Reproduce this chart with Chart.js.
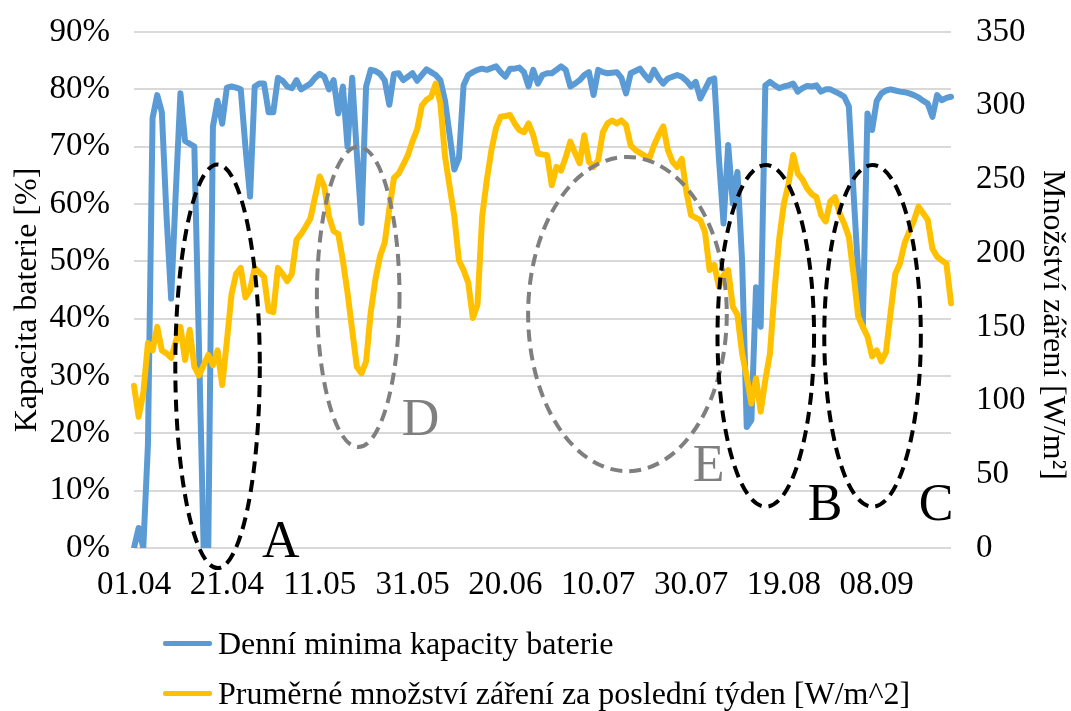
<!DOCTYPE html>
<html>
<head>
<meta charset="utf-8">
<script src="https://cdn.jsdelivr.net/npm/chart.js@4.4.1/dist/chart.umd.min.js"></script>
<style>
  html, body { margin: 0; padding: 0; background: #fff; }
  #wrap { position: relative; width: 1071px; height: 711px; }
  #legend { position: absolute; left: 163px; top: 618px; font-family: 'Liberation Serif', serif; font-size: 32px; color: #000; }
  .item { display: flex; align-items: center; height: 50px; white-space: nowrap; }
  .swatch { width: 49px; height: 5px; margin-right: 6px; border-radius: 2px; }
</style>
</head>
<body>
<div id="wrap">
  <canvas id="chart" width="1071" height="711"></canvas>
  <div id="legend"></div>
</div>
<script>
// daily values from 01.04 to 24.09
const batteryMin = [
  0, 3.5, 0, 18, 75, 79, 76, 58, 43.5, 62,
  79.3, 71, 70.5, 70, 35, 0, 0, 73.5, 78, 74,
  80.3, 80.5, 80.3, 80, 70, 61.3, 80.5, 81, 81, 76,
  76, 82, 81.5, 80.5, 80.2, 81.6, 80, 80.5, 81, 82,
  82.7, 82.2, 80, 81.6, 75.8, 80.5, 70, 82, 68.8, 56.7,
  80.5, 83.4, 83.2, 82.7, 81.6, 77.3, 82.7, 82.8, 81.6, 82.2,
  82.8, 81.5, 82.5, 83.5, 83, 82.5, 81.6, 78, 72, 66,
  68, 80.7, 82.5, 83, 83.4, 83.6, 83.4, 83.7, 84, 83,
  82.2, 83.6, 83.6, 83.8, 83, 80.5, 83.4, 81, 82.5, 82.8,
  82.8, 83.4, 84, 83.4, 80.5, 81, 81.6, 82.5, 83, 79,
  83.4, 83, 82.8, 82.9, 83, 82, 79.3, 82.8, 83.2, 83.6,
  82.5, 81.6, 83.4, 82, 81, 81.9, 82.2, 82.5, 82.2, 81.5,
  80.5, 81.3, 78.4, 80, 81.6, 81.9, 68, 56.6, 70.3, 60.1,
  65.6, 50, 21.1, 22.3, 45.5, 38.6, 80.7, 81.3, 80.7, 80.2,
  80.5, 80.7, 81, 79.6, 80.2, 80.6, 80.5, 80.7, 79.6, 80,
  80, 79.6, 79.2, 78.7, 77, 62, 48, 38.6, 75.8, 72.9,
  78, 79.3, 79.8, 80, 79.8, 79.6, 79.5, 79.3, 79, 78.6,
  78, 77.5, 75.2, 79, 78.1, 78.5, 78.7
];

const irradiance = [
  110, 89, 105, 139, 134, 150, 134, 132, 129, 140,
  150, 127.5, 148, 123, 117, 124, 131, 124, 134, 110.5,
  140, 172, 186, 190, 170, 175, 190, 187, 184, 161,
  160, 190, 186, 181, 186, 209, 213, 218, 223.5, 238,
  252, 245, 225, 215, 213, 195, 173, 148, 123, 118.5,
  126.5, 160, 182, 198, 207, 230, 251, 254, 260, 266.5,
  276, 284, 300, 304, 306, 315, 301.5, 265.6, 245, 225,
  195, 188.5, 180, 156, 165, 225, 249.5, 270, 285, 292.5,
  293, 293.7, 288, 283.5, 282, 288, 280, 267.6, 267, 266.5,
  246, 258.5, 256, 265, 275.6, 268, 261, 280, 262, 258.5,
  263, 282, 288, 290, 288, 290, 287, 273, 270, 268,
  266, 264, 273, 280, 286, 270, 262, 258.5, 264, 241.6,
  225.8, 224, 222.4, 214.5, 188.5, 192, 177.4, 185, 188.5, 163.6,
  158, 132, 116, 98, 115, 92.5, 114, 132, 175, 210,
  233.6, 247, 266.6, 254, 250, 244, 240, 238, 226, 221.5,
  235, 238, 227, 220, 211, 186, 157, 150, 143.5, 130,
  134, 126.5, 133, 160, 186, 193, 206.8, 214.6, 222, 231.5,
  227, 222.5, 203, 197.6, 195, 193, 166
];

const seriesNames = ['Denní minima kapacity baterie', 'Pruměrné množství záření za poslední týden [W/m^2]'];
const seriesColors = ['#5B9BD5', '#FFC000'];
const axisTitles = ['Kapacita baterie [%]', 'Množství záření [W/m²]'];

// dates dd.mm, one per day, starting 01.04
const startDay = new Date(2019, 3, 1);
const pad = n => String(n).padStart(2, '0');
const days = batteryMin.map((_, i) => {
  const d = new Date(startDay.getFullYear(), startDay.getMonth(), startDay.getDate() + i);
  return pad(d.getDate()) + '.' + pad(d.getMonth() + 1);
});

// highlighted periods (dashed ellipses), in day index / % units
const regions = [
  { label: 'A', color: '#000000', day: 18, pct: 31.7, rDay: 9.1, rPct: 35.2, textDay: 31.6, textPct: -1.5 },
  { label: 'D', color: '#7F7F7F', day: 48.3, pct: 43.8, rDay: 8.9, rPct: 26.2, textDay: 61.7, textPct: 19.7 },
  { label: 'E', color: '#7F7F7F', day: 106.3, pct: 40.8, rDay: 21.4, rPct: 27.4, textDay: 123.8, textPct: 11.6 },
  { label: 'B', color: '#000000', day: 136.1, pct: 37, rDay: 10.4, rPct: 29.8, textDay: 148.9, textPct: 4.9 },
  { label: 'C', color: '#000000', day: 159.1, pct: 37, rDay: 10.4, rPct: 29.8, textDay: 172.8, textPct: 4.9 }
];

const serif = 'Liberation Serif';

const regionPlugin = {
  id: 'regions',
  afterDatasetsDraw(chart) {
    const ctx = chart.ctx;
    const x = chart.scales.x, y = chart.scales.y;
    ctx.save();
    regions.forEach(r => {
      const cx = x.getPixelForValue(r.day);
      const cy = y.getPixelForValue(r.pct);
      const rx = Math.abs(x.getPixelForValue(r.day + r.rDay) - cx);
      const ry = Math.abs(y.getPixelForValue(r.pct + r.rPct) - cy);
      ctx.beginPath();
      ctx.ellipse(cx, cy, rx, ry, 0, 0, Math.PI * 2);
      ctx.setLineDash([12, 7]);
      ctx.lineWidth = 4;
      ctx.strokeStyle = r.color;
      ctx.stroke();
      ctx.setLineDash([]);
      ctx.fillStyle = r.color;
      ctx.font = '52px "' + serif + '"';
      ctx.textAlign = 'center';
      ctx.textBaseline = 'alphabetic';
      ctx.fillText(r.label, x.getPixelForValue(r.textDay), y.getPixelForValue(r.textPct));
    });
    ctx.restore();
  }
};

// axis titles, placed a bit below the middle of the plot like in the original
const titlePlugin = {
  id: 'axisTitles',
  afterDraw(chart) {
    const ctx = chart.ctx;
    const area = chart.chartArea;
    const mid = (area.top + area.bottom) / 2;
    ctx.save();
    ctx.fillStyle = '#000';
    ctx.font = '32px "' + serif + '"';
    ctx.textAlign = 'center';
    ctx.textBaseline = 'middle';
    ctx.translate(28, mid + 10);
    ctx.rotate(-Math.PI / 2);
    ctx.fillText(axisTitles[0], 0, 0);
    ctx.restore();
    ctx.save();
    ctx.fillStyle = '#000';
    ctx.font = '32px "' + serif + '"';
    ctx.textAlign = 'center';
    ctx.textBaseline = 'middle';
    ctx.translate(1052, mid + 35);
    ctx.rotate(Math.PI / 2);
    ctx.fillText(axisTitles[1], 0, 0);
    ctx.restore();
  }
};

const ctx = document.getElementById('chart').getContext('2d');
const chart = new Chart(ctx, {
  type: 'line',
  data: {
    labels: days,
    datasets: [{
      label: seriesNames[0],
      data: batteryMin,
      yAxisID: 'y',
      borderColor: seriesColors[0],
      backgroundColor: seriesColors[0],
      borderWidth: 6,
      order: 1
    }, {
      label: seriesNames[1],
      data: irradiance,
      yAxisID: 'y1',
      borderColor: seriesColors[1],
      backgroundColor: seriesColors[1],
      borderWidth: 6,
      order: 0
    }]
  },
  options: {
    responsive: false,
    animation: false,
    layout: { padding: { top: 32, left: 0, right: 0, bottom: 0 } },
    elements: {
      point: { radius: 0 },
      line: { tension: 0, borderJoinStyle: 'round', borderCapStyle: 'round' }
    },
    plugins: {
      legend: { display: false },
      tooltip: { enabled: false }
    },
    scales: {
      x: {
        type: 'category',
        grid: { display: false },
        border: { display: false },
        ticks: {
          autoSkip: false,
          maxRotation: 0,
          minRotation: 0,
          padding: 10,
          color: '#000',
          font: { family: serif, size: 33 },
          callback: function (v, i) { return i % 20 === 0 ? this.getLabelForValue(v) : null; }
        },
        afterFit: s => { s.height = 163; }
      },
      y: {
        position: 'left',
        min: 0,
        max: 90,
        grid: { color: '#D9D9D9', lineWidth: 2, drawTicks: true, tickLength: 24, tickColor: 'rgba(0,0,0,0)' },
        border: { display: false },
        ticks: {
          stepSize: 10,
          padding: 0,
          color: '#000',
          font: { family: serif, size: 33 },
          callback: v => v + '%'
        },
        afterFit: s => { s.width = 134; }
      },
      y1: {
        position: 'right',
        min: 0,
        max: 350,
        grid: { display: false, drawTicks: true, tickLength: 25, tickColor: 'rgba(0,0,0,0)' },
        border: { display: false },
        ticks: {
          stepSize: 50,
          padding: 0,
          color: '#000',
          font: { family: serif, size: 33 }
        },
        afterFit: s => { s.width = 120; }
      }
    }
  },
  plugins: [regionPlugin, titlePlugin]
});

// legend below the chart, one series per row
const legend = document.getElementById('legend');
chart.data.datasets.forEach(ds => {
  const item = document.createElement('div');
  item.className = 'item';
  const sw = document.createElement('span');
  sw.className = 'swatch';
  sw.style.background = ds.borderColor;
  const txt = document.createElement('span');
  txt.textContent = ds.label;
  item.appendChild(sw);
  item.appendChild(txt);
  legend.appendChild(item);
});
</script>
</body>
</html>
